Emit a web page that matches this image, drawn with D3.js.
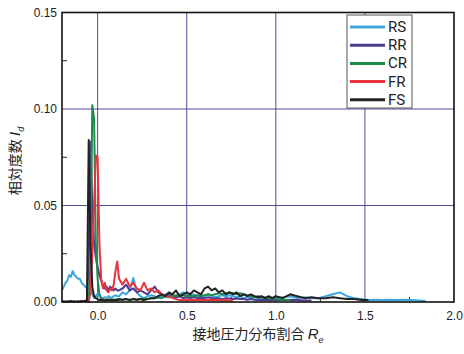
<!DOCTYPE html>
<html><head><meta charset="utf-8">
<script src="https://cdn.jsdelivr.net/npm/d3@7"></script>
<style>body{margin:0;background:#fff}svg{display:block}</style>
</head><body>
<svg id="c" width="464" height="354"></svg>
<script>
const X = [-0.20,-0.19,-0.18,-0.17,-0.16,-0.15,-0.14,-0.13,-0.12,-0.11,-0.10,-0.09,-0.08,-0.07,-0.06,-0.05,-0.04,-0.03,-0.02,-0.01,0.00,0.01,0.02,0.03,0.04,0.05,0.06,0.07,0.08,0.09,0.10,0.11,0.12,
0.14,0.16,0.18,0.20,0.22,0.24,0.26,0.28,0.30,0.32,0.34,0.36,0.38,0.40,0.42,0.44,0.46,0.48,0.50,0.52,0.54,0.56,0.58,0.60,0.62,0.64,0.66,0.68,0.70,0.72,0.74,0.76,0.78,0.80,0.82,0.84,0.86,0.88,0.90,0.92,0.94,0.96,0.98,1.00,
1.04,1.08,1.12,1.16,1.20,1.24,1.28,1.32,1.36,1.40,1.44,1.48,1.52,1.56,1.60,1.64,1.68,1.72,1.76,1.80,1.84];

const RS = [0.006,0.008,0.010,0.011,0.014,0.013,0.016,0.014,0.013,0.012,0.012,0.010,0.009,0.008,0.007,0.007,0.006,0.004,0.002,0.003,0.0045,0.003,0.0018,0.002,0.0025,0.002,0.003,0.0026,0.002,0.003,0.0035,0.003,0.003,
0.005,0.004,0.006,0.0124,0.005,0.003,0.0018,0.003,0.0035,0.003,0.002,0.003,0.004,0.0044,0.003,0.002,0.004,0.005,0.004,0.003,0.004,0.003,0.0035,0.003,0.004,0.003,0.0025,0.003,0.0035,0.003,0.0035,0.003,0.0025,0.003,0.002,0.0025,0.002,0.0025,0.002,0.002,0.0025,0.002,0.0022,0.002,
0.0025,0.003,0.002,0.0025,0.002,0.002,0.003,0.004,0.005,0.003,0.002,0.0015,0.001,0.0012,0.001,0.0012,0.001,0.0012,0.001,0.0008,0.0005];

const RR = [null,null,null,null,null,null,null,null,null,null,null,null,null,0,0.001,0.02,0.083,0.05,0.03,0.023,0.018,0.014,0.011,0.009,0.007,0.008,0.006,0.008,0.007,0.006,0.007,0.006,0.006,
0.007,0.009,0.006,0.007,0.005,0.006,0.005,0.004,0.006,0.008,0.005,0.004,0.003,0.004,0.003,0.0025,0.003,0.002,0.0025,0.002,0.0025,0.002,0.0022,0.002,0.0025,0.002,0.0018,0.002,0.0015,0.002,0.0018,0.0015,0.0018,0.0015,0.0015,0.0012,0.0015,0.0012,0.001,0.0012,0.001,0.0012,0.001,0.001,
0.001,0.0012,0.001,0.0008,0.0008,null,null,null,null,null,null,null,null,null,null,null,null,null,null,null,null];

const CR = [null,null,null,null,null,null,null,null,null,null,null,null,null,null,0,0.001,0.02,0.102,0.095,0.03,0.012,0.004,0.002,0.0015,0.001,0.0012,0.001,0.0015,0.001,0.0012,0.001,0.0015,0.001,
0.0012,0.0015,0.001,0.0015,0.0012,0.0015,0.002,0.0015,0.002,0.002,0.0025,0.002,0.003,0.0025,0.003,0.0035,0.003,0.0035,0.003,0.0032,0.003,0.0035,0.003,0.0035,0.004,0.0035,0.004,0.0045,0.004,0.0045,0.005,0.0045,0.004,0.0045,0.004,0.0035,0.003,0.0025,0.003,0.0025,0.002,0.002,0.0018,0.0015,
0.0012,0.001,null,null,null,null,null,null,null,null,null,null,null,null,null,null,null,null,null,null,null];

const FR = [null,null,null,null,null,null,null,null,null,null,null,null,null,null,0,0.0,0.005,0.025,0.05,0.076,0.075,0.03,0.012,0.007,0.010,0.006,0.005,0.007,0.006,0.009,0.016,0.021,0.012,
0.009,0.012,0.008,0.010,0.007,0.006,0.010,0.006,0.007,0.005,0.006,0.004,0.003,0.003,0.002,0.0015,0.001,0.0012,0.001,0.0012,0.001,0.001,0.0012,0.001,0.001,0.0012,0.001,0.001,0.0008,0.001,0.0008,0.0008,null,null,null,null,null,null,null,null,null,null,null,null,
null,null,null,null,null,null,null,null,null,null,null,null,null,null,null,null,null,null,null,null,null];

const FS = [0.0003,0.0004,0.0002,0.0004,0.0003,0.0005,0.0003,0.0004,0.0002,0.0004,0.0003,0.0005,0.0004,0.0006,0.001,0.084,0.03,0.008,0.003,0.002,0.0015,0.001,0.0012,0.001,0.0008,0.001,0.0012,0.001,0.0008,0.001,0.0012,0.001,0.0015,
0.0012,0.0015,0.001,0.0015,0.0012,0.0015,0.001,0.0015,0.002,0.002,0.003,0.004,0.003,0.005,0.004,0.006,0.003,0.004,0.005,0.004,0.006,0.005,0.004,0.007,0.008,0.006,0.007,0.005,0.006,0.004,0.005,0.004,0.005,0.003,0.004,0.003,0.004,0.003,0.0025,0.003,0.002,0.003,0.002,0.003,
0.002,0.004,0.003,0.002,0.0025,0.002,0.002,0.0025,0.002,0.0015,0.0015,0.001,0.001,null,null,null,null,null,null,null,null];

const seriesNames = ["RS","RR","CR","FR","FS"];
const seriesData = [RS,RR,CR,FR,FS];
const seriesColors = ["#3ea6dd","#4b3c8f","#1e8b4c","#e8343c","#222222"];

const xTicks = [0.0,0.5,1.0,1.5,2.0];
const xTickLabels = ["0.0","0.5","1.0","1.5","2.0"];
const xMinor = [0.25,0.75,1.25,1.75];
const yTicks = [0.00,0.05,0.10,0.15];
const yTickLabels = ["0.00","0.05","0.10","0.15"];
const yMinor = [0.025,0.075,0.125];

const svg = d3.select("#c");
const L=62, R=454, T=12.5, B=302;
const x = d3.scaleLinear().domain([-0.2,2.0]).range([L,R]);
const y = d3.scaleLinear().domain([0,0.15]).range([B,T]);
const gridColor = "#4f4a96";

svg.append("g").selectAll("line").data(xTicks.filter(v=>v>-0.2&&v<2.0)).join("line")
  .attr("x1",d=>x(d)).attr("x2",d=>x(d)).attr("y1",T).attr("y2",B)
  .attr("stroke",gridColor).attr("stroke-width",1);
svg.append("g").selectAll("line").data(yTicks.filter(v=>v>0&&v<0.15)).join("line")
  .attr("y1",d=>y(d)).attr("y2",d=>y(d)).attr("x1",L).attr("x2",R)
  .attr("stroke",gridColor).attr("stroke-width",1);

svg.append("g").selectAll("line").data(yMinor).join("line")
  .attr("x1",L).attr("x2",L+5).attr("y1",d=>y(d)).attr("y2",d=>y(d)).attr("stroke","#222").attr("stroke-width",1);
svg.append("g").selectAll("line").data(xMinor).join("line")
  .attr("x1",d=>x(d)).attr("x2",d=>x(d)).attr("y1",B).attr("y2",B-5).attr("stroke","#222").attr("stroke-width",1);

const line = d3.line().defined(d=>d[1]!==null).x(d=>x(d[0])).y(d=>y(d[1]));
seriesData.forEach((s,i)=>{
  svg.append("path").datum(X.map((v,j)=>[v,s[j]]))
    .attr("d",line).attr("fill","none").attr("stroke",seriesColors[i])
    .attr("stroke-width",2).attr("stroke-linejoin","round");
});

svg.append("rect").attr("x",L).attr("y",T).attr("width",R-L).attr("height",B-T)
  .attr("fill","none").attr("stroke","#111").attr("stroke-width",1.6);

const xAxis = d3.axisBottom(x).tickValues(xTicks).tickFormat((d,i)=>xTickLabels[i]).tickSize(0).tickPadding(9);
const gx = svg.append("g").attr("transform",`translate(0,${B})`).call(xAxis);
gx.select(".domain").remove();
gx.selectAll("text").attr("font-family","Liberation Sans, Arial, sans-serif").attr("font-size",12).attr("fill","#222");
const yAxis = d3.axisLeft(y).tickValues(yTicks).tickFormat((d,i)=>yTickLabels[i]).tickSize(0).tickPadding(5);
const gy = svg.append("g").attr("transform",`translate(${L},0)`).call(yAxis);
gy.select(".domain").remove();
gy.selectAll("text").attr("font-family","Liberation Sans, Arial, sans-serif").attr("font-size",12).attr("fill","#222");

const xt = svg.append("text").attr("x",258).attr("y",339).attr("text-anchor","middle")
  .attr("font-family","Noto Sans CJK JP, sans-serif").attr("font-size",14).attr("fill","#222");
xt.append("tspan").text("接地圧力分布割合 ");
xt.append("tspan").attr("font-family","Liberation Sans, Arial, sans-serif").attr("font-style","italic").attr("font-size",15).text("R");
xt.append("tspan").attr("font-family","Liberation Sans, Arial, sans-serif").attr("font-style","italic").attr("font-size",9).attr("dy",4).text("e");

const yt = svg.append("text").attr("transform","translate(20,161) rotate(-90)").attr("text-anchor","middle")
  .attr("font-family","Noto Sans CJK JP, sans-serif").attr("font-size",14).attr("fill","#222");
yt.append("tspan").text("相対度数 ");
yt.append("tspan").attr("font-family","Liberation Sans, Arial, sans-serif").attr("font-style","italic").attr("font-size",15).text("I");
yt.append("tspan").attr("font-family","Liberation Sans, Arial, sans-serif").attr("font-style","italic").attr("font-size",9).attr("dy",4).text("d");

const lg = svg.append("g");
lg.append("rect").attr("x",347).attr("y",15).attr("width",65).attr("height",93)
  .attr("fill","#fff").attr("stroke","#555").attr("stroke-width",1);
seriesNames.forEach((n,i)=>{
  const yy = 27 + i*18.2;
  lg.append("line").attr("x1",350).attr("x2",385).attr("y1",yy).attr("y2",yy)
    .attr("stroke",seriesColors[i]).attr("stroke-width",3);
  lg.append("text").attr("x",388).attr("y",yy+5).text(n)
    .attr("font-family","Roboto, Liberation Sans, sans-serif").attr("font-size",15).attr("fill","#222");
});
</script>
</body></html>
